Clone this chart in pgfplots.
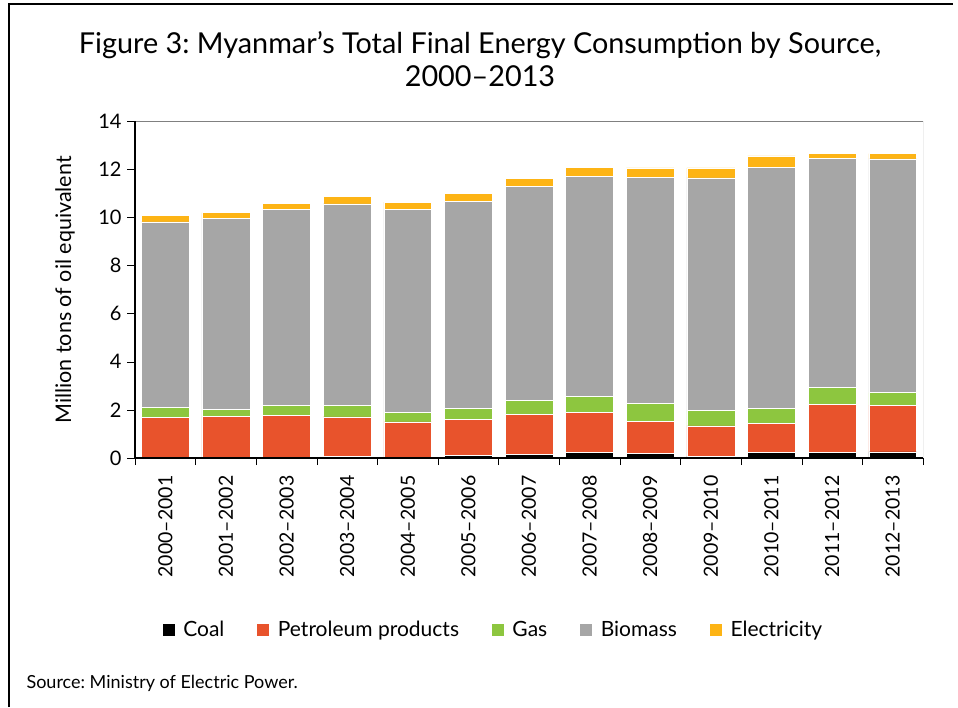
\documentclass[border=0pt]{standalone}
\usepackage{fontspec}
\setmainfont{Lato}
\usepackage{pgfplots}
\pgfplotsset{compat=1.18}
\definecolor{coalc}{RGB}{0,0,0}
\definecolor{petro}{RGB}{232,83,44}
\definecolor{gasc}{RGB}{141,198,63}
\definecolor{bio}{RGB}{166,166,166}
\definecolor{elec}{RGB}{253,180,21}

\begin{document}
\frenchspacing
\begin{tikzpicture}[x=1pt,y=1pt]
\useasboundingbox (-135,-249) rectangle (823,458);
% page frame (open at right and bottom)
\draw[line width=2pt] (-126,-249) -- (-126,454) -- (818,454);
\node[font=\fontsize{28.8}{33}\selectfont,align=center] at (345,399)
  {Figure 3: Myanmar’s Total Final Energy Consumption by Source,\\2000\textendash2013};
\begin{axis}[
  at={(0,0)},anchor=south west,
  scale only axis,
  width=788pt,height=337pt,
  axis on top,
  ybar stacked,
  bar width=0.79,
  xmin=-0.5,xmax=12.5,
  ymin=0,ymax=14,
  ytick={0,2,...,14},
  xtick={0,...,12},
  xticklabels={2000\textendash2001,2001\textendash2002,2002\textendash2003,2003\textendash2004,
    2004\textendash2005,2005\textendash2006,2006\textendash2007,2007\textendash2008,
    2008\textendash2009,2009\textendash2010,2010\textendash2011,2011\textendash2012,2012\textendash2013},
  x tick label style={rotate=90,anchor=east,font=\fontsize{19.5}{22}\selectfont,xshift=-6pt},
  y tick label style={font=\fontsize{20}{24}\selectfont,xshift=-2pt},
  /pgf/number format/assume math mode=true,
  major x tick style={draw=none},
  minor xtick={-0.5,0.5,...,12.5},
  minor x tick style={black,thin},
  minor tick length=7pt,
  major tick length=8pt,
  tick align=outside,
  ytick style={black,thin},
  axis x line*=bottom,
  axis y line*=left,
  axis line style={black,line width=1.6pt,-},
  ylabel={Million tons of oil equivalent},
  every axis y label/.style={at={(-70pt,168pt)},rotate=90,anchor=center,
    font=\fontsize{21.5}{25}\selectfont},
  legend columns=5,
  legend style={at={(358pt,-172pt)},anchor=center,draw=none,
    font=\fontsize{21}{25}\selectfont,
    /tikz/every odd column/.append style={column sep=6pt},
    /tikz/every even column/.append style={column sep=30pt}},
  legend image code/.code={\fill[#1] (2pt,-6pt) rectangle (15pt,7pt);},
  every axis plot/.append style={draw=white,line width=0.5pt},
]
\addplot[fill=coalc] coordinates {
  (0,0.04) (1,0.03) (2,0.04) (3,0.08) (4,0.03) (5,0.10) (6,0.15)
  (7,0.24) (8,0.18) (9,0.08) (10,0.22) (11,0.22) (12,0.25)};
\addlegendentry{Coal}
\addplot[fill=petro] coordinates {
  (0,1.65) (1,1.69) (2,1.74) (3,1.63) (4,1.47) (5,1.50) (6,1.67)
  (7,1.66) (8,1.33) (9,1.25) (10,1.21) (11,2.00) (12,1.95)};
\addlegendentry{Petroleum products}
\addplot[fill=gasc] coordinates {
  (0,0.41) (1,0.29) (2,0.41) (3,0.47) (4,0.41) (5,0.47) (6,0.57)
  (7,0.67) (8,0.75) (9,0.64) (10,0.62) (11,0.72) (12,0.52)};
\addlegendentry{Gas}
\addplot[fill=bio] coordinates {
  (0,7.71) (1,7.93) (2,8.14) (3,8.38) (4,8.42) (5,8.58) (6,8.88)
  (7,9.13) (8,9.41) (9,9.67) (10,10.01) (11,9.52) (12,9.71)};
\addlegendentry{Biomass}
\addplot[fill=elec] coordinates {
  (0,0.27) (1,0.25) (2,0.26) (3,0.32) (4,0.30) (5,0.33) (6,0.36)
  (7,0.36) (8,0.38) (9,0.41) (10,0.49) (11,0.18) (12,0.21)};
\addlegendentry{Electricity}
\draw[gray,thin] (rel axis cs:0,1) -- (rel axis cs:1,1) -- (rel axis cs:1,0);
\end{axis}
\node[anchor=west,font=\fontsize{18}{22}\selectfont] at (-112,-225) {Source: Ministry of Electric Power.};
\end{tikzpicture}
\end{document}
